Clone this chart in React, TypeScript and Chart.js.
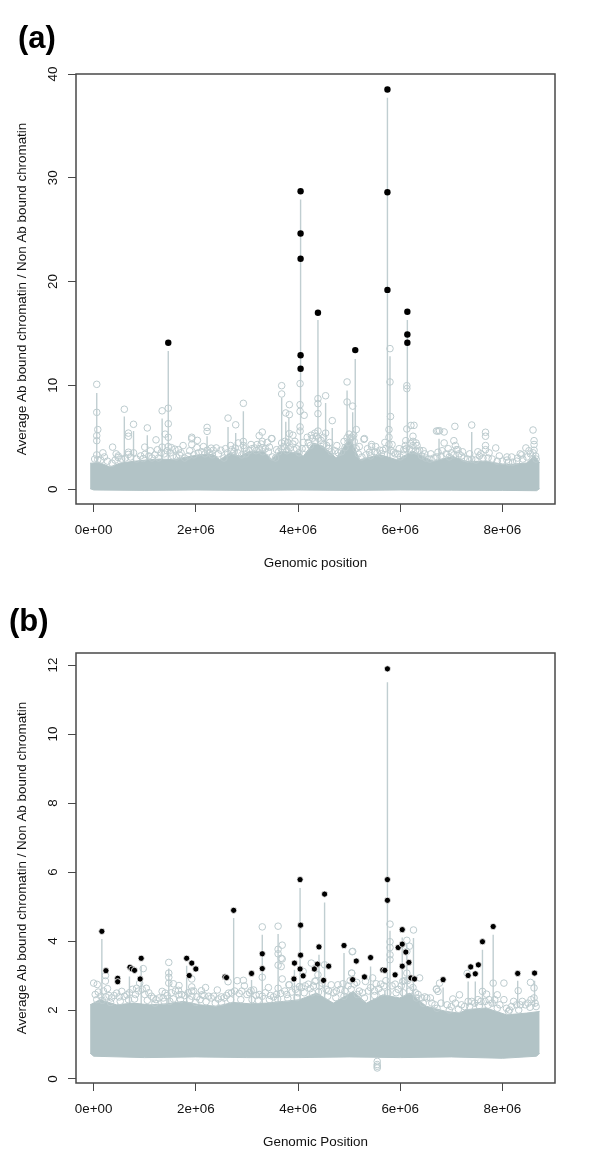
import React, { useEffect, useRef } from "react";
import { Chart, registerables } from "chart.js";

Chart.register(...registerables);

type P = [number, number];

// x is in Mb (multiplied by 1e6 when the dataset is built)
const xTickValues = [0, 2e6, 4e6, 6e6, 8e6];
const xTickLabels = ["0e+00", "2e+06", "4e+06", "6e+06", "8e+06"];
const yTicksA = [0, 10, 20, 30, 40];
const yTicksB = [0, 2, 4, 6, 8, 10, 12];

const blackA: P[] = [
  [1.46, 14.1], [4.05, 28.7], [4.05, 24.63], [4.05, 22.2], [4.05, 12.9], [4.05, 11.6],
  [4.39, 17.0], [5.12, 13.4], [5.75, 38.5], [5.75, 28.6], [5.75, 19.2],
  [6.14, 17.1], [6.14, 14.9], [6.14, 14.1],
];

const hollowA: P[] = [
  [3.68, 9.97], [3.68, 9.17], [4.04, 10.17], [4.96, 10.33], [4.39, 8.72], [4.54, 9.0], [5.8, 13.54], [5.8, 10.33],
  [6.13, 9.97], [6.13, 9.69], [3.83, 8.14], [3.76, 7.34], [3.83, 7.18], [4.04, 8.14], [4.04, 7.5], [4.12, 7.12],
  [4.39, 8.24], [4.39, 7.27], [4.67, 6.6], [4.96, 8.4], [5.07, 8.0], [5.14, 5.74], [5.81, 7.0], [6.13, 5.8],
  [6.21, 6.14], [6.27, 6.15], [5.3, 4.87], [5.44, 4.3], [3.48, 4.87], [4.04, 6.0], [4.04, 5.6], [3.83, 5.35],
  [3.9, 5.2], [4.26, 5.2], [4.33, 5.4], [4.39, 5.6], [4.54, 5.4], [4.96, 4.95], [5.05, 5.0], [5.78, 5.74],
  [5.78, 5.0], [5.78, 4.3], [6.25, 5.1], [6.25, 4.6], [6.25, 4.2], [6.71, 5.6], [6.74, 5.6], [7.07, 6.05],
  [7.4, 6.18], [6.77, 5.63], [6.86, 5.51], [6.86, 4.45], [7.05, 4.67], [7.67, 5.48], [7.67, 5.1], [7.67, 4.2],
  [7.67, 3.8], [7.87, 3.97], [8.6, 5.7], [8.62, 4.67], [8.62, 4.3], [8.62, 3.75], [8.46, 3.97], [8.35, 3.4],
  [8.3, 3.0], [8.09, 3.1], [8.09, 2.8], [7.58, 3.4], [7.55, 3.2], [7.1, 3.8], [7.13, 3.8], [7.2, 3.2],
  [6.74, 3.56], [6.48, 3.4], [6.38, 3.75], [6.31, 4.45], [6.11, 4.67], [6.07, 3.8], [5.44, 4.1], [5.29, 4.8],
  [5.4, 3.56], [5.6, 3.75], [5.66, 3.75], [5.87, 3.56], [0.06, 10.1], [0.06, 7.4], [0.08, 5.74], [0.06, 5.15],
  [0.06, 4.67], [0.06, 3.3], [0.08, 2.85], [0.6, 7.7], [0.78, 6.25], [0.68, 5.4], [0.68, 5.1], [0.37, 4.05],
  [0.48, 3.2], [0.48, 3.05], [0.68, 3.56], [0.68, 3.35], [1.05, 5.9], [1.0, 4.05], [1.0, 3.35], [1.22, 4.75],
  [1.34, 7.55], [1.46, 7.8], [1.46, 6.3], [1.4, 5.3], [1.46, 5.0], [1.46, 4.1], [1.34, 4.05], [1.59, 3.85],
  [1.75, 4.2], [1.71, 3.5], [1.92, 5.0], [1.92, 4.85], [1.92, 4.3], [2.03, 4.7], [2.22, 5.95], [2.22, 5.57],
  [2.22, 3.75], [2.4, 3.97], [2.34, 3.75], [2.49, 3.75], [2.63, 6.85], [2.78, 6.2], [2.93, 8.27], [2.93, 4.6],
  [2.93, 4.2], [2.83, 4.45], [2.77, 3.97], [3.24, 5.15], [3.3, 5.5], [3.3, 4.6], [3.49, 4.87], [3.44, 4.05],
  [3.3, 3.97], [3.15, 3.97], [3.68, 4.45], [3.9, 4.35],
];

const meshA: P[] = [
  [0.02, 2.9], [0.14, 2.8], [0.21, 3.1], [0.27, 2.7], [0.36, 2.5], [0.42, 2.8], [0.55, 2.9], [0.62, 3.0], [0.72, 3.1],
  [0.84, 2.9], [0.92, 3.2], [0.97, 2.95], [1.08, 3.2], [1.14, 3.0], [1.2, 3.3], [1.27, 3.0], [1.32, 3.5], [1.38, 3.4],
  [1.44, 3.7], [1.5, 3.5], [1.55, 3.2], [1.62, 3.1], [1.68, 3.3], [1.78, 3.0], [1.85, 3.2], [1.96, 3.3], [2.05, 3.5],
  [2.12, 3.6], [2.18, 3.4], [2.27, 3.5], [2.32, 3.3], [2.44, 3.4], [2.55, 3.0], [2.62, 3.5], [2.7, 3.8], [2.75, 3.6],
  [2.82, 3.5], [2.9, 3.3], [2.98, 3.4], [3.04, 3.7], [3.1, 3.9], [3.18, 3.7], [3.24, 3.9], [3.31, 3.6], [3.36, 3.9],
  [3.42, 3.6], [3.5, 3.1], [3.56, 3.0], [3.62, 3.6], [3.67, 3.9], [3.72, 4.1], [3.78, 3.7], [3.85, 4.0], [3.92, 3.8],
  [3.97, 3.9], [4.02, 3.5], [4.08, 3.9], [4.15, 3.9], [4.2, 4.5], [4.24, 4.2], [4.28, 4.9], [4.33, 4.6], [4.4, 4.9],
  [4.45, 4.7], [4.5, 4.3], [4.56, 4.2], [4.6, 3.9], [4.65, 3.6], [4.72, 3.7], [4.79, 3.5], [4.85, 3.6], [4.92, 4.0],
  [4.98, 4.5], [5.03, 4.9], [5.1, 4.6], [5.14, 3.9], [5.18, 3.4], [5.25, 3.1], [5.33, 3.3], [5.42, 3.2], [5.5, 3.6],
  [5.55, 3.5], [5.63, 3.4], [5.72, 3.9], [5.82, 3.7], [5.9, 3.4], [5.95, 3.4], [6.0, 3.1], [6.06, 3.3], [6.12, 3.9],
  [6.18, 3.9], [6.22, 3.7], [6.3, 3.7], [6.35, 3.6], [6.42, 3.2], [6.5, 3.0], [6.58, 2.9], [6.66, 3.0], [6.72, 3.1],
  [6.8, 3.2], [6.9, 3.4], [6.96, 3.1], [7.0, 3.5], [7.05, 3.3], [7.15, 3.4], [7.25, 3.0], [7.32, 2.9], [7.4, 2.9],
  [7.48, 2.8], [7.62, 3.0], [7.72, 3.0], [7.8, 2.9], [7.9, 2.7], [8.0, 2.7], [8.12, 2.6], [8.2, 2.6], [8.28, 2.7],
  [8.4, 2.9], [8.48, 3.1], [8.55, 3.4], [8.6, 3.5], [8.65, 3.2], [8.66, 2.9],
  [0.18, 3.5], [0.44, 3.4], [0.78, 3.5], [1.11, 3.7], [1.25, 3.8], [1.52, 4.0], [1.66, 3.8], [1.88, 3.7], [2.02, 4.0],
  [2.15, 4.1], [2.3, 3.95], [2.58, 3.9], [2.68, 4.2], [2.95, 3.9], [3.08, 4.3], [3.2, 4.3], [3.28, 4.35], [3.4, 4.5],
  [3.58, 3.8], [3.74, 4.6], [3.8, 4.5], [3.94, 4.6], [4.1, 4.5], [4.18, 5.0], [4.36, 5.1], [4.5, 5.0], [4.62, 4.5],
  [4.76, 4.2], [4.9, 4.6], [5.0, 5.3], [5.09, 5.2], [5.2, 4.1], [5.36, 3.9], [5.52, 4.1], [5.7, 4.5], [5.84, 4.3],
  [5.98, 3.9], [6.1, 4.2], [6.2, 4.4], [6.33, 4.2], [6.45, 3.7], [6.6, 3.4], [6.82, 3.7], [6.94, 3.9], [7.08, 4.2],
  [7.22, 3.6], [7.36, 3.4], [7.52, 3.6], [7.74, 3.5], [7.94, 3.2], [8.18, 3.1], [8.38, 3.3], [8.52, 3.7],
];

const stemsA: P[] = [
  [1.46, 13.3], [4.05, 27.9], [4.39, 16.3], [5.12, 12.55], [5.75, 37.7], [6.14, 16.3], [0.06, 9.27], [0.6, 7.0],
  [0.78, 5.6], [1.05, 5.2], [1.34, 6.8], [2.22, 5.1], [2.63, 5.98], [2.78, 5.4], [2.93, 7.5], [3.68, 8.8],
  [3.76, 6.5], [3.82, 6.9], [5.8, 12.8], [4.96, 9.5], [5.07, 7.4], [4.54, 8.3], [4.67, 5.9], [7.4, 5.5], [6.76, 4.85],
];

const bandTopA: P[] = [
  [-0.07, 2.5], [0.12, 2.55], [0.32, 2.14], [0.51, 2.5], [0.77, 2.68], [1.1, 2.84], [1.3, 2.9], [1.56, 2.84], [1.82, 3.1],
  [2.08, 3.33], [2.34, 3.33], [2.47, 2.84], [2.67, 3.49], [2.86, 3.16], [3.06, 3.65], [3.32, 3.65], [3.48, 2.9],
  [3.64, 3.65], [4.03, 3.49], [4.1, 3.16], [4.3, 4.45], [4.49, 4.13], [4.75, 3.0], [5.01, 4.93], [5.21, 2.84],
  [5.6, 3.33], [5.93, 2.84], [6.25, 3.65], [6.64, 2.68], [7.03, 3.16], [7.29, 2.68], [7.68, 2.68], [8.08, 2.36],
  [8.47, 2.52], [8.63, 3.23], [8.73, 2.52],
];

const bandBottomA: P[] = [
  [-0.07, 0.05], [0.0, -0.08], [1.0, -0.12], [2.0, -0.08], [3.0, -0.12], [4.0, -0.08], [5.0, -0.12], [6.0, -0.08],
  [7.0, -0.1], [8.0, -0.12], [8.67, -0.15], [8.73, 0.05],
];

const blackB: P[] = [
  [0.16, 4.28], [0.24, 3.14], [0.47, 2.92], [0.47, 2.82], [0.71, 3.24], [0.75, 3.19], [0.8, 3.15], [0.91, 2.9],
  [0.93, 3.5], [1.82, 3.5], [1.92, 3.36], [2.0, 3.19], [1.87, 3.0], [2.57, 2.96], [2.6, 2.94], [2.74, 4.89],
  [3.09, 3.06], [3.3, 3.63], [3.3, 3.2], [3.93, 3.36], [3.92, 2.9], [4.04, 5.78], [4.05, 4.46], [4.05, 3.59],
  [4.04, 3.19], [4.1, 2.99], [4.52, 5.36], [4.41, 3.83], [4.38, 3.33], [4.32, 3.19], [4.6, 3.27], [4.5, 2.86],
  [4.9, 3.87], [5.14, 3.42], [5.07, 2.88], [5.42, 3.52], [5.3, 2.96], [5.66, 3.16], [5.7, 3.15], [5.75, 11.89],
  [5.75, 5.78], [5.75, 5.18], [5.9, 3.02], [6.04, 4.33], [5.96, 3.81], [6.04, 3.91], [6.11, 3.68], [6.17, 3.38],
  [6.04, 3.27], [6.21, 2.93], [6.28, 2.9], [6.84, 2.88], [7.33, 3.0], [7.38, 3.25], [7.47, 3.05], [7.53, 3.31],
  [7.61, 3.98], [7.82, 4.42], [8.3, 3.06], [8.63, 3.07],
];

const hollowB: P[] = [
  [0.0, 2.78], [0.07, 2.74], [0.23, 3.0], [0.23, 2.84], [0.27, 2.62], [0.97, 3.2], [1.47, 3.38], [1.47, 3.07],
  [1.47, 2.95], [1.47, 2.78], [1.56, 2.76], [1.67, 2.71], [1.66, 2.57], [1.67, 2.44], [1.92, 2.9], [1.92, 2.67],
  [1.92, 2.55], [1.92, 2.4], [2.11, 2.56], [2.12, 2.44], [2.19, 2.65], [2.42, 2.58], [2.35, 2.4], [2.5, 2.38],
  [2.63, 2.82], [2.64, 2.49], [2.81, 2.85], [2.93, 2.86], [2.95, 2.7], [3.08, 2.56], [3.13, 2.58], [3.3, 4.41],
  [3.3, 2.95], [3.3, 2.4], [3.42, 2.65], [3.61, 4.43], [3.69, 3.88], [3.61, 3.76], [3.61, 3.63], [3.61, 3.3],
  [3.69, 3.48], [3.69, 2.9], [3.61, 2.63], [3.82, 2.73], [4.03, 2.68], [1.17, 2.34], [1.34, 2.54], [1.4, 2.49],
  [1.03, 2.63], [0.84, 2.63], [0.9, 2.78], [0.55, 2.54], [0.65, 2.44], [0.45, 2.49], [1.49, 2.25], [4.26, 3.36],
  [4.52, 3.31], [5.07, 3.7], [5.05, 3.07], [5.8, 4.49], [5.8, 3.98], [5.8, 3.81], [5.8, 3.6], [5.8, 3.46],
  [6.26, 4.32], [6.13, 4.02], [6.13, 3.7], [6.18, 3.85], [6.38, 2.93], [3.83, 2.73], [4.33, 2.83], [4.39, 3.02],
  [4.65, 2.73], [4.78, 2.73], [4.88, 2.76], [5.15, 2.8], [5.46, 2.93], [5.32, 2.83], [5.53, 2.76], [6.05, 2.83],
  [6.13, 3.07], [6.71, 2.6], [6.74, 2.54], [4.1, 3.12], [3.67, 3.26], [3.67, 3.5], [7.31, 3.06], [6.77, 2.78],
  [6.71, 2.61], [8.03, 2.78], [7.82, 2.78], [8.55, 2.8], [8.62, 2.64], [8.62, 2.35], [8.31, 2.56], [7.61, 2.54],
  [7.69, 2.46], [5.06, 3.69], [5.05, 3.07], [7.9, 2.44], [8.22, 2.25], [8.39, 2.25], [8.03, 2.3], [7.16, 2.44],
  [7.03, 2.32], [6.48, 2.38], [6.59, 2.35], [7.33, 2.25], [7.85, 2.3], [8.14, 2.0], [5.55, 0.51], [5.55, 0.42],
  [5.55, 0.32], [5.55, 0.37],
];

const meshB: P[] = [
  [0.03, 2.45], [0.09, 2.52], [0.14, 2.4], [0.19, 2.55], [0.24, 2.38], [0.3, 2.42], [0.35, 2.35], [0.4, 2.42], [0.5, 2.38],
  [0.6, 2.4], [0.7, 2.5], [0.76, 2.6], [0.82, 2.45], [0.88, 2.55], [0.95, 2.6], [1.0, 2.45], [1.08, 2.5], [1.13, 2.4],
  [1.22, 2.3], [1.28, 2.35], [1.36, 2.35], [1.44, 2.42], [1.52, 2.5], [1.6, 2.55], [1.72, 2.45], [1.78, 2.42], [1.85, 2.5],
  [1.96, 2.55], [2.02, 2.38], [2.08, 2.3], [2.16, 2.42], [2.25, 2.4], [2.3, 2.35], [2.44, 2.32], [2.55, 2.35], [2.6, 2.42],
  [2.7, 2.5], [2.76, 2.55], [2.85, 2.48], [2.9, 2.55], [3.0, 2.45], [3.05, 2.5], [3.18, 2.42], [3.24, 2.45], [3.36, 2.5],
  [3.46, 2.42], [3.52, 2.38], [3.58, 2.45], [3.66, 2.48], [3.74, 2.55], [3.78, 2.45], [3.88, 2.52], [3.95, 2.6], [4.0, 2.5],
  [4.07, 2.65], [4.14, 2.7], [4.2, 2.75], [4.24, 2.62], [4.3, 2.7], [4.35, 2.85], [4.42, 2.7], [4.47, 2.78], [4.55, 2.6],
  [4.6, 2.55], [4.7, 2.5], [4.75, 2.55], [4.83, 2.6], [4.92, 2.55], [4.98, 2.7], [5.02, 2.85], [5.1, 2.75], [5.2, 2.55],
  [5.26, 2.5], [5.38, 2.55], [5.42, 2.65], [5.5, 2.55], [5.58, 2.62], [5.62, 2.75], [5.68, 2.7], [5.72, 2.85], [5.84, 2.7],
  [5.9, 2.75], [5.96, 2.6], [6.02, 2.7], [6.08, 2.85], [6.14, 2.85], [6.2, 2.75], [6.25, 2.65], [6.3, 2.5], [6.35, 2.45],
  [6.42, 2.35], [6.52, 2.35], [6.62, 2.2], [6.68, 2.15], [6.8, 2.2], [6.92, 2.15], [7.0, 2.1], [7.08, 2.2], [7.2, 2.15],
  [7.26, 2.1], [7.4, 2.25], [7.46, 2.2], [7.52, 2.3], [7.58, 2.25], [7.66, 2.25], [7.74, 2.3], [7.8, 2.2], [7.95, 2.15],
  [8.08, 2.05], [8.18, 2.1], [8.28, 2.15], [8.35, 2.15], [8.45, 2.15], [8.5, 2.2], [8.56, 2.3], [8.64, 2.2], [8.66, 2.1],
  [0.06, 2.3], [0.17, 2.28], [0.33, 2.22], [0.52, 2.25], [0.68, 2.3], [0.8, 2.32], [1.05, 2.28], [1.2, 2.2], [1.38, 2.25],
  [1.56, 2.32], [1.7, 2.3], [1.88, 2.3], [2.0, 2.22], [2.2, 2.24], [2.38, 2.2], [2.5, 2.22], [2.68, 2.3], [2.88, 2.3],
  [3.1, 2.3], [3.22, 2.28], [3.44, 2.3], [3.6, 2.32], [3.8, 2.34], [3.98, 2.36], [4.12, 2.5], [4.28, 2.5], [4.4, 2.52],
  [4.58, 2.4], [4.74, 2.36], [4.9, 2.4], [5.04, 2.6], [5.16, 2.45], [5.3, 2.35], [5.5, 2.42], [5.64, 2.5], [5.76, 2.5],
  [5.92, 2.5], [6.06, 2.5], [6.18, 2.55], [6.32, 2.35], [6.45, 2.2], [6.72, 2.05], [6.96, 2.0], [7.14, 2.02], [7.36, 2.1],
  [7.55, 2.12], [7.72, 2.14], [7.9, 2.05], [8.12, 1.96], [8.32, 2.0], [8.54, 2.08],
];

const stemsB: P[] = [
  [5.75, 11.5], [0.16, 4.06], [2.74, 4.67], [4.04, 5.54], [4.52, 5.12], [4.9, 3.65], [5.42, 3.26], [3.3, 4.18],
  [3.61, 4.2], [7.61, 3.75], [7.82, 4.18], [6.26, 4.09], [7.33, 2.83], [7.47, 2.83], [0.7, 2.97], [0.93, 3.27],
  [1.82, 3.28], [3.09, 2.87], [3.93, 3.17], [8.3, 2.85], [1.47, 3.2], [6.04, 4.1], [6.13, 3.9], [4.41, 3.6],
  [5.8, 4.3], [6.84, 2.65], [8.63, 2.85],
];

const bandTopB: P[] = [
  [-0.07, 2.15], [0.12, 2.3], [0.45, 2.15], [0.77, 2.2], [1.1, 2.15], [1.43, 2.18], [1.75, 2.25], [2.08, 2.15],
  [2.4, 2.11], [2.73, 2.22], [3.06, 2.18], [3.38, 2.2], [3.71, 2.25], [4.03, 2.3], [4.36, 2.49], [4.69, 2.2],
  [5.08, 2.54], [5.34, 2.2], [5.66, 2.44], [5.99, 2.35], [6.19, 2.49], [6.51, 2.11], [6.9, 1.96], [7.16, 1.91],
  [7.29, 2.01], [7.68, 2.06], [8.08, 1.86], [8.47, 1.91], [8.73, 1.96],
];

const bandBottomB: P[] = [
  [-0.07, 0.75], [0.0, 0.66], [1.0, 0.62], [2.0, 0.64], [3.0, 0.62], [4.0, 0.62], [5.0, 0.64], [6.0, 0.62],
  [7.0, 0.64], [8.0, 0.6], [8.67, 0.66], [8.73, 0.75],
];

const BAND = "#b2c3c6";
const RING = "#bccbce";
const STEM = "#c0ced1";

const toXY = (pts: P[]) => pts.map(([x, y]) => ({ x: x * 1e6, y }));
const toStems = (pts: P[], base: number) =>
  pts.flatMap(([x, y]) => [
    { x: x * 1e6, y: base },
    { x: x * 1e6, y },
    { x: x * 1e6, y: null as unknown as number },
  ]);

const frame = {
  id: "frame",
  afterDraw(chart: any) {
    const { ctx, chartArea: a } = chart;
    ctx.save();
    ctx.strokeStyle = "#484848";
    ctx.lineWidth = 1.5;
    ctx.strokeRect(a.left, a.top, a.right - a.left, a.bottom - a.top);
    ctx.restore();
  },
};

type Panel = {
  width: number;
  height: number;
  top: number;
  bottom: number;
  yMin: number;
  yMax: number;
  yTicks: number[];
  xTitle: string;
  black: P[];
  hollow: P[];
  mesh: P[];
  stems: P[];
  bandTop: P[];
  bandBottom: P[];
  blackRadius: number;
  blackBorder: number;
};

function Plot({ p, style }: { p: Panel; style: React.CSSProperties }) {
  const ref = useRef<HTMLCanvasElement>(null);
  useEffect(() => {
    const font = { family: "'Liberation Sans', Arial, sans-serif", size: 13.4 };
    const ring = {
      pointRadius: 3.3,
      pointBackgroundColor: "rgba(0,0,0,0)",
      pointBorderColor: RING,
      pointBorderWidth: 1,
    };
    const chart = new Chart(ref.current!, {
      type: "scatter",
      data: {
        datasets: [
          {
            data: toXY(p.black),
            order: 0,
            pointRadius: p.blackRadius,
            pointBackgroundColor: "#000000",
            pointBorderColor: "rgba(255,255,255,0.8)",
            pointBorderWidth: p.blackBorder,
          },
          { data: toXY(p.hollow), order: 1, ...ring },
          { data: toXY(p.mesh), order: 2, ...ring },
          {
            data: toXY(p.bandTop),
            order: 3,
            showLine: true,
            fill: "+1",
            backgroundColor: BAND,
            borderColor: BAND,
            borderWidth: 1,
            pointRadius: 0,
          },
          {
            data: toXY(p.bandBottom),
            order: 4,
            showLine: true,
            borderColor: BAND,
            borderWidth: 1,
            pointRadius: 0,
          },
          {
            data: toStems(p.stems, p.bandTop[0][1] - 0.05),
            order: 5,
            showLine: true,
            spanGaps: false,
            pointRadius: 0,
            borderColor: STEM,
            borderWidth: 1.4,
          },
        ],
      } as any,
      options: {
        responsive: false,
        animation: false,
        layout: { padding: { left: 14, right: 45, top: p.top, bottom: p.height - p.bottom - 70 } },
        plugins: { legend: { display: false }, tooltip: { enabled: false } },
        scales: {
          x: {
            type: "linear",
            min: -346000,
            max: 9030000,
            afterFit: (s: any) => { s.height = 70; },
            afterBuildTicks: (s: any) => { s.ticks = xTickValues.map((value) => ({ value })); },
            border: { display: false },
            grid: { drawOnChartArea: false, drawTicks: true, tickLength: 8, color: "#484848" },
            ticks: {
              font,
              color: "#111111",
              padding: 10,
              maxRotation: 0,
              minRotation: 0,
              autoSkip: false,
              callback: (v: any) => xTickLabels[xTickValues.indexOf(Number(v))],
            },
            title: { display: true, text: p.xTitle, font, color: "#111111", padding: { top: 4, bottom: 3 } },
          },
          y: {
            type: "linear",
            min: p.yMin,
            max: p.yMax,
            afterFit: (s: any) => { s.width = 62; },
            afterBuildTicks: (s: any) => { s.ticks = p.yTicks.map((value) => ({ value })); },
            border: { display: false },
            grid: { drawOnChartArea: false, drawTicks: true, tickLength: 8, color: "#484848" },
            ticks: {
              font,
              color: "#111111",
              padding: 7,
              minRotation: 90,
              maxRotation: 90,
              crossAlign: "center",
              autoSkip: false,
            },
            title: {
              display: true,
              text: "Average Ab bound chromatin / Non Ab bound chromatin",
              font,
              color: "#111111",
              padding: { top: 0, bottom: 0 },
            },
          },
        },
      } as any,
      plugins: [frame],
    });
    return () => chart.destroy();
  }, [p]);
  return <canvas ref={ref} width={p.width} height={p.height} style={style} />;
}

const panelA: Panel = {
  width: 600, height: 590, top: 74, bottom: 504, yMin: -1.43, yMax: 40, yTicks: yTicksA,
  xTitle: "Genomic position", black: blackA, hollow: hollowA, mesh: meshA, stems: stemsA,
  bandTop: bandTopA, bandBottom: bandBottomA, blackRadius: 3.2, blackBorder: 0,
};
const panelB: Panel = {
  width: 600, height: 585, top: 63, bottom: 493, yMin: -0.116, yMax: 12.35, yTicks: yTicksB,
  xTitle: "Genomic Position", black: blackB, hollow: hollowB, mesh: meshB, stems: stemsB,
  bandTop: bandTopB, bandBottom: bandBottomB, blackRadius: 3.1, blackBorder: 1,
};

const tag: React.CSSProperties = {
  position: "absolute",
  fontFamily: "'Liberation Sans', Arial, sans-serif",
  fontWeight: 700,
  fontSize: 31,
  lineHeight: "36px",
  color: "#000",
};

export default function App() {
  return (
    <div style={{ position: "absolute", left: 0, top: 0, width: 600, height: 1175, background: "#fff", overflow: "hidden" }}>
      <Plot p={panelA} style={{ position: "absolute", left: 0, top: 0, display: "block" }} />
      <Plot p={panelB} style={{ position: "absolute", left: 0, top: 590, display: "block" }} />
      <div style={{ ...tag, left: 18, top: 20 }}>(a)</div>
      <div style={{ ...tag, left: 9, top: 603 }}>(b)</div>
    </div>
  );
}
